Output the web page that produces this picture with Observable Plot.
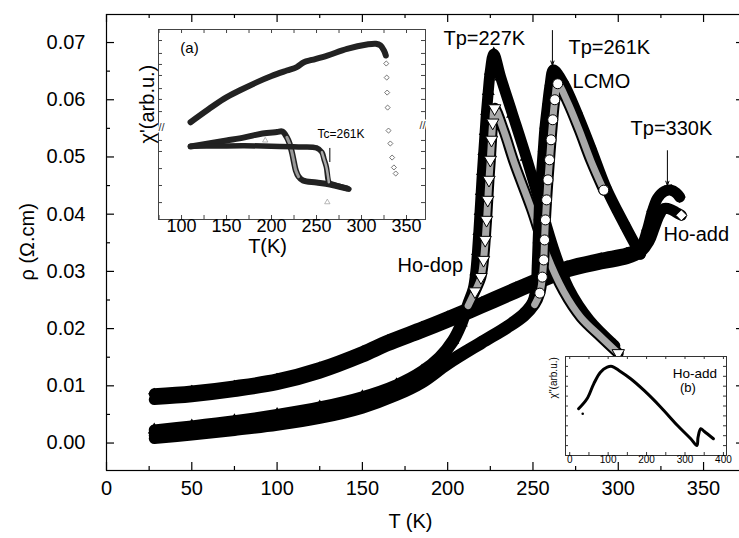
<!DOCTYPE html>
<html><head><meta charset="utf-8">
<script src="https://cdn.jsdelivr.net/npm/d3@7"></script>
<script src="https://cdn.jsdelivr.net/npm/@observablehq/plot@0.6"></script>
<style>
html,body{margin:0;padding:0;background:#fff;overflow:hidden;}
#wrap{position:relative;width:739px;height:538px;overflow:hidden;}
#wrap svg{position:absolute;max-width:none;}
</style></head><body><div id="wrap"></div>
<script>
const FONT = '"Liberation Sans", Arial, Helvetica, sans-serif';

// ---------- main panel data: T (K) and rho (Ohm.cm) ----------
const hoDopFilledT   = [28, 50, 75, 100, 125, 150, 170, 185, 195, 203, 208, 212, 215, 216.5, 217.5, 218.3, 219, 219.7, 220.4, 221.2, 222, 222.8, 223.8, 225, 227, 231, 238, 246, 254, 262, 271, 283, 298];
const hoDopFilledRho = [0.0023, 0.0030, 0.0039, 0.0050, 0.0063, 0.0081, 0.0102, 0.0126, 0.0150, 0.0180, 0.0210, 0.0245, 0.0270, 0.0300, 0.0335, 0.0370, 0.0405, 0.0440, 0.0475, 0.0510, 0.0545, 0.0580, 0.0615, 0.0650, 0.0680, 0.0640, 0.0575, 0.0500, 0.0420, 0.0340, 0.0270, 0.0215, 0.0170];
const hoDopOpenT     = [28, 50, 75, 100, 125, 150, 170, 185, 195, 203, 208, 212, 216, 219.5, 221, 222, 222.8, 223.5, 224.2, 225, 225.7, 226.4, 227.5, 233, 239, 249, 258, 268, 278, 290, 300];
const hoDopOpenRho   = [0.0018, 0.0025, 0.0033, 0.0044, 0.0057, 0.0075, 0.0097, 0.0121, 0.0146, 0.0176, 0.0206, 0.0240, 0.0265, 0.0290, 0.0320, 0.0355, 0.0390, 0.0425, 0.0460, 0.0495, 0.0530, 0.0560, 0.0585, 0.0545, 0.0490, 0.0410, 0.0330, 0.0265, 0.0220, 0.0185, 0.0157];
const lcmoFilledT    = [28, 50, 75, 100, 125, 150, 170, 185, 200, 220, 235, 245, 250, 252, 252.5, 253, 253.5, 254, 255, 256, 257, 258.5, 260, 262, 268, 276, 284, 293, 304, 313];
const lcmoFilledRho  = [0.0013, 0.0019, 0.0027, 0.0036, 0.0049, 0.0067, 0.0089, 0.0111, 0.0142, 0.0178, 0.0205, 0.0228, 0.0248, 0.0280, 0.0310, 0.0350, 0.0390, 0.0430, 0.0470, 0.0510, 0.0550, 0.0590, 0.0625, 0.0652, 0.0628, 0.0575, 0.0515, 0.0445, 0.0380, 0.0330];
const lcmoOpenT      = [28, 50, 75, 100, 125, 150, 170, 185, 200, 220, 235, 245, 251, 254, 255.5, 256.3, 256.8, 257.3, 258, 258.8, 259.7, 260.6, 261.6, 262.8, 264.5, 270, 277, 284, 291.5];
const lcmoOpenRho    = [0.0008, 0.0014, 0.0022, 0.0031, 0.0043, 0.0061, 0.0083, 0.0105, 0.0137, 0.0174, 0.0201, 0.0222, 0.0242, 0.0262, 0.0290, 0.0320, 0.0355, 0.0390, 0.0425, 0.0460, 0.0495, 0.0530, 0.0565, 0.0600, 0.0628, 0.0598, 0.0548, 0.0493, 0.0442];
const hoAddFilledT   = [28, 50, 75, 100, 125, 150, 165, 185, 200, 220, 240, 255, 270, 290, 305, 313, 317, 320, 323, 327, 331, 334, 336];
const hoAddFilledRho = [0.0086, 0.0091, 0.0100, 0.0112, 0.0132, 0.0160, 0.0180, 0.0203, 0.0221, 0.0246, 0.0272, 0.0291, 0.0309, 0.0323, 0.0332, 0.0342, 0.0372, 0.0405, 0.0428, 0.0440, 0.0442, 0.0437, 0.0430];
const hoAddOpenT     = [28, 50, 75, 100, 125, 150, 165, 185, 200, 220, 240, 255, 270, 290, 305, 313, 318, 321, 324, 327, 331, 334, 337];
const hoAddOpenRho   = [0.0076, 0.0081, 0.0090, 0.0102, 0.0122, 0.0150, 0.0170, 0.0193, 0.0211, 0.0236, 0.0262, 0.0281, 0.0299, 0.0313, 0.0322, 0.0333, 0.0352, 0.0375, 0.0398, 0.0410, 0.0408, 0.0403, 0.0398];

const xTickLabels = [0, 50, 100, 150, 200, 250, 300, 350];
const xMinorTicks = [25, 75, 125, 175, 225, 275, 325];
const yTickLabels = [0.00, 0.01, 0.02, 0.03, 0.04, 0.05, 0.06, 0.07];
const yMinorTicks = [0.005, 0.015, 0.025, 0.035, 0.045, 0.055, 0.065];

const notes = [
  {T: 197.5, R: 0.0707, text: "Tp=227K"},
  {T: 270.8, R: 0.0692, text: "Tp=261K"},
  {T: 273.2, R: 0.0631, text: "LCMO"},
  {T: 307.2, R: 0.0549, text: "Tp=330K"},
  {T: 326.5, R: 0.0364, text: "Ho-add"},
  {T: 170.6, R: 0.0310, text: "Ho-dop"}
];
const arrows = [
  {T: 261.4, R1: 0.0721, R2: 0.0660},
  {T: 328.8, R1: 0.0511, R2: 0.0450}
];

// ---------- inset (a): chi' vs T ----------
const chiAddT = [110, 130, 147, 165, 184, 200, 217, 228, 236, 245, 262, 284, 306, 316, 321, 325, 327, 327.5, 328, 328.5, 329, 330, 332, 334, 336, 338];
const chiAddV = [51.2, 58, 63.5, 68, 72.3, 75.5, 78.4, 80.2, 82.8, 84.0, 86.3, 89.8, 92.1, 92.5, 91.6, 88.9, 86.3, 82.1, 74.7, 66.8, 58.9, 46.8, 40, 32.6, 27.4, 24.2];
const chiDopT = [110, 130, 150, 170, 190, 206, 212, 217, 220, 223, 225, 227, 230, 235, 250, 265, 284];
const chiDopV = [38.4, 40, 41.6, 43.2, 45.3, 46, 46.3, 43.3, 40, 34.7, 30, 25.8, 22.6, 20.5, 19.5, 18.4, 16.3];
const chiLcmoT = [110, 140, 170, 200, 230, 250, 256, 258.5, 261, 263.7, 266, 275, 286];
const chiLcmoV = [38.6, 38.7, 38.8, 38.6, 38.2, 37.7, 35.4, 31.5, 27.5, 19.6, 18.8, 17.5, 16];
const insetAXLabels = [100, 150, 200, 250, 300, 350];
const insetAXTicks = [75, 100, 125, 150, 175, 200, 225, 250, 275, 300, 325, 350];
const insetAYTicks = [8.9, 17.9, 26.8, 35.8, 41.6, 56.8, 63.2, 68.9, 75.8, 81.6, 87.4, 94.2];
const strayT = [193, 262];
const strayV = [41.6, 9.1];

// ---------- inset (b): chi'' vs T ----------
const chi2T = [23, 45, 62.5, 80, 97.6, 110.6, 128, 158.6, 193.4, 237, 280.5, 315, 331, 334, 341, 349.6, 374];
const chi2V = [47.2, 57.3, 72.4, 84.1, 89.2, 89.9, 85.9, 77.5, 65.7, 48.8, 30.3, 16.9, 10.1, 18.5, 27, 24.5, 16.9];
const insetBXLabels = [0, 100, 200, 300, 400];
const insetBYTicks = [10, 20, 30, 40, 50, 60, 70, 80, 90];

// ---------- helpers ----------
const mk = (T, R) => T.map((t, i) => ({T: t, R: R[i]}));
const peakIdx = a => a.reduce((m, d, i) => d.R > a[m].R ? i : m, 0);
const triDown = {draw(ctx, size) {
  const s = Math.sqrt(size / (Math.sqrt(3) / 4)), h = s * Math.sqrt(3) / 2;
  ctx.moveTo(0, 2 * h / 3); ctx.lineTo(s / 2, -h / 3); ctx.lineTo(-s / 2, -h / 3); ctx.closePath();
}};

const hoDopF = mk(hoDopFilledT, hoDopFilledRho);
const hoDopO = mk(hoDopOpenT, hoDopOpenRho);
const lcmoF = mk(lcmoFilledT, lcmoFilledRho);
const lcmoO = mk(lcmoOpenT, lcmoOpenRho);
const hoAddF = mk(hoAddFilledT, hoAddFilledRho);
const hoAddO = mk(hoAddOpenT, hoAddOpenRho);

const BW = 11;
const band = (data, stroke, w) => Plot.line(data, {x: "T", y: "R", stroke, strokeWidth: w, curve: "catmull-rom", strokeLinecap: "round", strokeLinejoin: "round"});

const plotW = 746, plotH = 538, mL = 106, mR = 2, mT = 14, mB = 68;
const innerW = plotW - mL - mR, innerH = plotH - mT - mB;

const pkDopO = peakIdx(hoDopO), pkLcmoO = peakIdx(lcmoO);
const dopOSplit = hoDopO.filter(d => d.T >= 212);
const lcmoOSplit = lcmoO.filter(d => d.T >= 250);
const dopOMarkers = hoDopO.filter((d, i) => d.T >= 216 && i <= pkDopO).concat(hoDopO.slice(-1));
const lcmoOMarkers = lcmoO.filter((d, i) => d.T >= 254 && i <= pkLcmoO).concat(lcmoO.slice(-1));

const main = Plot.plot({
  width: plotW, height: plotH,
  marginLeft: mL, marginRight: mR, marginTop: mT, marginBottom: mB,
  x: {domain: [0, 374], axis: null},
  y: {domain: [-0.0048, 0.0749], axis: null},
  style: {background: "white", fontFamily: FONT, color: "black"},
  marks: [
    band(hoAddO, "black", BW),
    band(hoAddF, "black", BW),
    Plot.dot(hoAddF, {x: "T", y: "R", symbol: "diamond2", r: 5.5, fill: "black"}),
    Plot.dot(hoAddO.slice(-1), {x: "T", y: "R", symbol: "diamond2", r: 5, fill: "white", stroke: "black", strokeWidth: 1}),
    band(hoDopF, "black", BW),
    Plot.dot(hoDopF, {x: "T", y: "R", symbol: "triangle", r: 4.8, fill: "black"}),
    band(hoDopO, "black", BW),
    band(dopOSplit, "#a8a8a8", 7),
    Plot.dot(dopOMarkers, {x: "T", y: "R", symbol: triDown, r: 4.6, fill: "white", stroke: "black", strokeWidth: 1}),
    band(lcmoF, "black", BW),
    Plot.dot(lcmoF, {x: "T", y: "R", symbol: "circle", r: 5.3, fill: "black"}),
    band(lcmoO, "black", BW),
    band(lcmoOSplit, "#a8a8a8", 7),
    Plot.dot(lcmoOMarkers, {x: "T", y: "R", symbol: "circle", r: 5, fill: "white", stroke: "black", strokeWidth: 1}),
    Plot.arrow(arrows, {x1: "T", x2: "T", y1: "R1", y2: "R2", stroke: "black", strokeWidth: 1, headLength: 7, headAngle: 40}),
    Plot.text(notes, {x: "T", y: "R", text: "text", textAnchor: "start", fontSize: 20, fill: "black"}),
    Plot.frame({stroke: "black", strokeWidth: 1.2}),
    Plot.tickX(xTickLabels, {x: d => d, insetTop: innerH - 8, stroke: "black", strokeWidth: 1.2}),
    Plot.tickX(xMinorTicks, {x: d => d, insetTop: innerH - 4, stroke: "black", strokeWidth: 1.2}),
    Plot.tickX(xTickLabels, {x: d => d, insetBottom: innerH - 8, stroke: "black", strokeWidth: 1.2}),
    Plot.tickX(xMinorTicks, {x: d => d, insetBottom: innerH - 4, stroke: "black", strokeWidth: 1.2}),
    Plot.tickY(yTickLabels, {y: d => d, insetRight: innerW - 8, stroke: "black", strokeWidth: 1.2}),
    Plot.tickY(yMinorTicks, {y: d => d, insetRight: innerW - 4, stroke: "black", strokeWidth: 1.2}),
    Plot.tickY(yTickLabels, {y: d => d, insetLeft: innerW - 8, stroke: "black", strokeWidth: 1.2}),
    Plot.tickY(yMinorTicks, {y: d => d, insetLeft: innerW - 4, stroke: "black", strokeWidth: 1.2}),
    Plot.text(xTickLabels, {x: d => d, frameAnchor: "bottom", dy: 24, text: d => String(d), fontSize: 20, fill: "black"}),
    Plot.text(yTickLabels, {y: d => d, frameAnchor: "left", dx: -21, textAnchor: "end", text: d => d.toFixed(2), fontSize: 20, fill: "black"}),
    Plot.text(["T (K)"], {x: 178.2, frameAnchor: "bottom", dy: 57, fontSize: 20, fill: "black"}),
    Plot.text(["ρ (Ω.cm)"], {y: 0.0284, frameAnchor: "left", dx: -79, rotate: -90, fontSize: 20, fill: "black"})
  ]
});

// ---------- inset (a) ----------
const aW = 330, aH = 245, aL = 58, aR = 5, aT = 9, aB = 46;
const aInW = aW - aL - aR, aInH = aH - aT - aB;
const cAdd = mk(chiAddT, chiAddV), cDop = mk(chiDopT, chiDopV), cLcmo = mk(chiLcmoT, chiLcmoV);
const iline = (data, stroke, w) => Plot.line(data, {x: "T", y: "R", stroke, strokeWidth: w, curve: "catmull-rom", strokeLinecap: "round", strokeLinejoin: "round"});
const insetA = Plot.plot({
  width: aW, height: aH, marginLeft: aL, marginRight: aR, marginTop: aT, marginBottom: aB,
  x: {domain: [74.4, 371.1], axis: null},
  y: {domain: [0, 100], axis: null},
  style: {background: "transparent", fontFamily: FONT, color: "black", overflow: "visible"},
  marks: [
    Plot.frame({fill: "white", stroke: "#444", strokeWidth: 1}),
    iline(cAdd.filter(d => d.T <= 327), "#222", 6),
    Plot.dot(cAdd.filter(d => d.T > 327), {x: "T", y: "R", symbol: "diamond2", r: 2.3, stroke: "#555", fill: "white", strokeWidth: 0.8}),
    iline(cDop, "#222", 6),
    iline(cDop.filter(d => d.T >= 215 && d.T <= 232), "#999", 3),
    iline(cLcmo, "#222", 5.5),
    iline(cLcmo.filter(d => d.T >= 255 && d.T <= 265), "#aaa", 2.5),
    Plot.dot(mk(strayT, strayV), {x: "T", y: "R", symbol: "triangle", r: 2, stroke: "#999", strokeWidth: 0.7}),
    Plot.ruleX([264.8], {y1: 30, y2: 37.4, stroke: "black", strokeWidth: 1}),
    Plot.text(["Tc=261K"], {x: 251.1, y: 44.7, textAnchor: "start", fontSize: 12, fill: "black"}),
    Plot.text(["(a)"], {x: 108.9, y: 90.3, fontSize: 15, fill: "black"}),
    Plot.tickX(insetAXTicks, {x: d => d, insetTop: aInH - 4, stroke: "#444"}),
    Plot.tickX(insetAXTicks, {x: d => d, insetBottom: aInH - 4, stroke: "#444"}),
    Plot.tickY(insetAYTicks, {y: d => d, insetRight: aInW - 4, stroke: "#444"}),
    Plot.tickY(insetAYTicks, {y: d => d, insetLeft: aInW - 4, stroke: "#444"}),
    Plot.text(["//"], {y: 48.4, frameAnchor: "left", fontSize: 11, fill: "#333", stroke: "white", strokeWidth: 3}),
    Plot.text(["//"], {y: 49.5, frameAnchor: "right", fontSize: 11, fill: "#333", stroke: "white", strokeWidth: 3}),
    Plot.text(insetAXLabels, {x: d => d, frameAnchor: "bottom", dy: 12, text: d => String(d), fontSize: 18, fill: "black"}),
    Plot.text(["T(K)"], {x: 195.6, frameAnchor: "bottom", dy: 33, fontSize: 20, fill: "black"}),
    Plot.text(["χ'(arb.u.)"], {y: 40, frameAnchor: "left", dx: -11, rotate: -90, fontSize: 20, fill: "black"})
  ]
});

// ---------- inset (b) ----------
const bW = 195, bH = 130, bL = 25, bR = 9, bT = 11, bB = 20;
const bInW = bW - bL - bR, bInH = bH - bT - bB;
const insetBXTicks = [0, 50, 100, 150, 200, 250, 300, 350, 400];
const insetB = Plot.plot({
  width: bW, height: bH, marginLeft: bL, marginRight: bR, marginTop: bT, marginBottom: bB,
  x: {domain: [-11, 408], axis: null},
  y: {domain: [0, 100], axis: null},
  style: {background: "transparent", fontFamily: FONT, color: "black", overflow: "visible"},
  marks: [
    Plot.frame({fill: "white", stroke: "#333", strokeWidth: 1}),
    Plot.line(mk(chi2T, chi2V), {x: "T", y: "R", stroke: "black", strokeWidth: 3, curve: "catmull-rom", strokeLinejoin: "round"}),
    Plot.dot([{T: 33.8, R: 42.1}], {x: "T", y: "R", r: 1.3, fill: "black"}),
    Plot.tickX(insetBXTicks, {x: d => d, insetTop: bInH - 3, stroke: "#333"}),
    Plot.tickX(insetBXTicks, {x: d => d, insetBottom: bInH - 3, stroke: "#333"}),
    Plot.tickY(insetBYTicks, {y: d => d, insetRight: bInW - 3, stroke: "#333"}),
    Plot.tickY(insetBYTicks, {y: d => d, insetLeft: bInW - 3, stroke: "#333"}),
    Plot.text(insetBXLabels, {x: d => d, frameAnchor: "bottom", dy: 7, text: d => String(d), fontSize: 10, fill: "black"}),
    Plot.text(["Ho-add"], {x: 325.8, y: 82.8, fontSize: 13.5, fill: "black"}),
    Plot.text(["(b)"], {x: 307.6, y: 68.2, fontSize: 13, fill: "black"}),
    Plot.text(["χ''(arb.u.)"], {y: 57.6, frameAnchor: "left", dx: -12, rotate: -90, fontSize: 10, fill: "black"})
  ]
});

const wrap = document.getElementById("wrap");
main.style.left = "0px"; main.style.top = "0px";
insetA.style.left = "100px"; insetA.style.top = "20px";
insetB.style.left = "540px"; insetB.style.top = "345px";
wrap.appendChild(main);
wrap.appendChild(insetA);
wrap.appendChild(insetB);
</script></body></html>
